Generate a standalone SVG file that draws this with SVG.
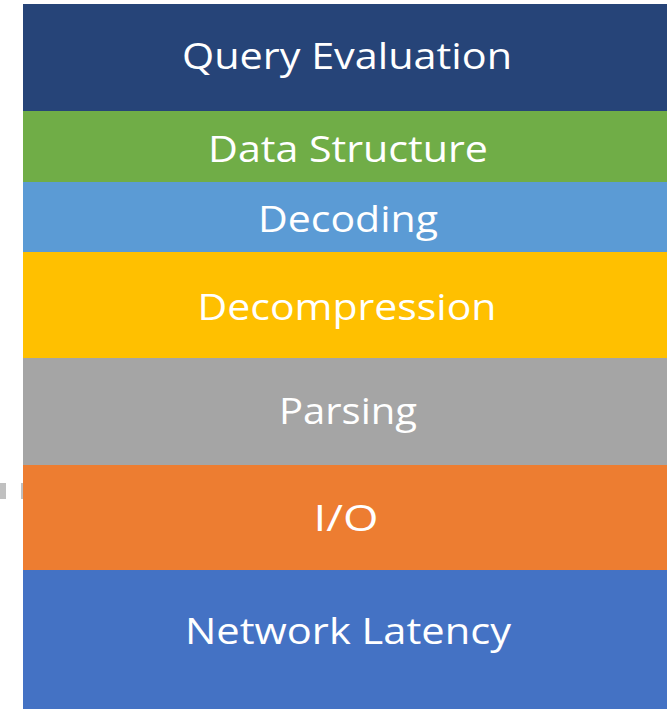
<svg xmlns="http://www.w3.org/2000/svg" width="667" height="709" viewBox="0 0 667 709">
<style>
.lbl{font-family:"Open Sans","Liberation Sans",sans-serif;font-size:37px;fill:#ffffff;text-anchor:middle}
.mark{fill:#c0c0c0}
</style>
<rect width="667" height="709" fill="#ffffff"/>
<g id="marks">
<rect class="mark" x="0" y="483" width="6" height="16"/>
<rect class="mark" x="21" y="483" width="2" height="16"/>
</g>
<g id="query-evaluation">
<rect x="23" y="4" width="644" height="107" fill="#264478"/>
<text class="lbl" x="347" y="69" textLength="330" lengthAdjust="spacingAndGlyphs">Query Evaluation</text>
</g>
<g id="data-structure">
<rect x="23" y="111" width="644" height="71" fill="#70AD47"/>
<text class="lbl" x="348" y="162" textLength="280" lengthAdjust="spacingAndGlyphs">Data Structure</text>
</g>
<g id="decoding">
<rect x="23" y="182" width="644" height="70" fill="#5B9BD5"/>
<text class="lbl" x="348" y="232" textLength="180" lengthAdjust="spacingAndGlyphs">Decoding</text>
</g>
<g id="decompression">
<rect x="23" y="252" width="644" height="106" fill="#FFC000"/>
<text class="lbl" x="347" y="320" textLength="299" lengthAdjust="spacingAndGlyphs">Decompression</text>
</g>
<g id="parsing">
<rect x="23" y="358" width="644" height="107" fill="#A5A5A5"/>
<text class="lbl" x="348" y="424" textLength="138" lengthAdjust="spacingAndGlyphs">Parsing</text>
</g>
<g id="io">
<rect x="23" y="465" width="644" height="105" fill="#ED7D31"/>
<text class="lbl" x="346" y="531" textLength="65" lengthAdjust="spacingAndGlyphs">I/O</text>
</g>
<g id="network-latency">
<rect x="23" y="570" width="644" height="139" fill="#4472C4"/>
<text class="lbl" x="348" y="644" textLength="326" lengthAdjust="spacingAndGlyphs">Network Latency</text>
</g>
<g id="connectors"/>
</svg>
